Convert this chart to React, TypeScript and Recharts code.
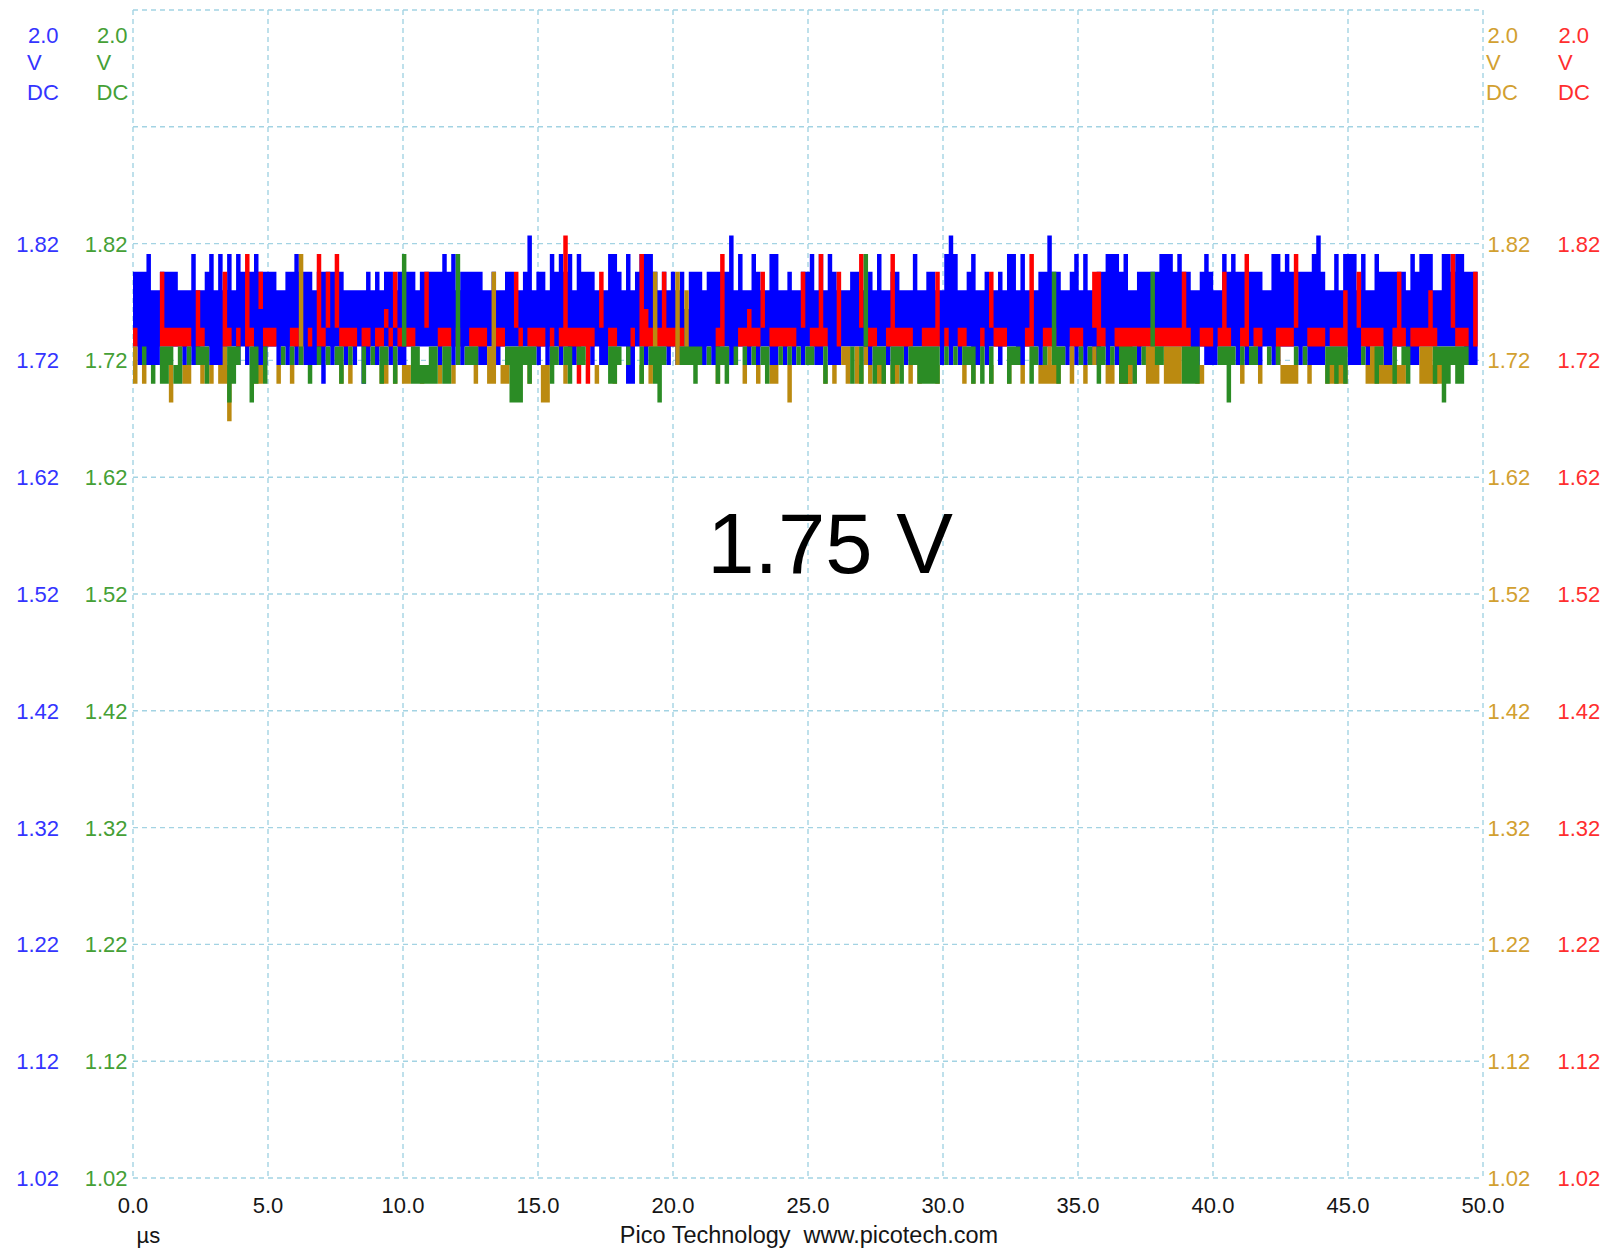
import React from 'react';
import { ComposedChart, Area, XAxis, YAxis, CartesianGrid } from 'recharts';

const SAMPLE_US = 0.166; // width of one display bin in µs
const LEVELS = [1.668, 1.684, 1.7, 1.716, 1.732, 1.748, 1.764, 1.78, 1.796, 1.811, 1.827];

const blueHi = [
  8,8,8,9,7,7,8,8,8,8,7,7,7,9,7,7,8,9,7,9,7,9,7,9,8,
  8,8,9,8,8,8,8,7,7,8,8,9,8,8,8,7,8,8,8,8,8,8,7,7,7,
  7,7,8,7,8,7,8,8,7,8,8,8,8,7,8,8,8,8,8,9,8,9,7,8,8,
  8,8,8,7,7,8,7,7,8,8,7,7,8,10,7,8,8,7,9,8,9,8,9,7,9,
  8,8,8,7,7,7,9,9,8,7,9,7,8,9,9,9,8,7,8,7,8,7,8,6,8,
  8,8,7,8,8,8,8,8,10,7,9,7,7,9,8,7,7,9,9,7,7,8,7,7,8,
  8,9,7,9,7,9,8,7,7,7,8,8,7,7,8,7,9,7,7,8,8,7,7,7,9,
  7,7,8,8,7,7,9,10,9,7,7,8,9,7,7,8,7,7,8,7,9,9,7,9,7,
  7,7,8,8,10,8,8,7,7,8,9,7,9,7,7,8,8,9,9,9,8,9,7,7,8,
  8,8,8,8,9,9,9,8,9,8,8,7,7,8,9,8,7,7,9,8,9,8,8,8,8,
  8,8,7,7,9,9,8,9,8,8,8,8,8,9,10,8,7,7,9,7,9,9,9,7,9,
  7,7,9,8,8,8,8,8,8,7,9,8,9,9,9,7,7,9,9,8,9,9,8,8,8,
];
const blueLo = [
  4,3,3,3,3,3,4,4,4,4,4,3,4,3,3,4,4,3,3,3,3,4,4,3,4,
  3,4,3,3,3,4,4,3,4,3,4,3,4,3,3,3,3,2,4,3,4,4,3,4,3,
  4,2,3,4,3,4,4,3,4,3,3,4,4,4,4,4,4,4,3,4,4,3,4,3,4,
  4,4,3,3,4,4,3,4,4,4,4,4,4,4,4,3,4,3,4,4,3,4,3,3,4,
  4,4,3,4,3,3,4,4,4,4,2,2,4,4,3,4,4,4,4,3,4,3,4,3,3,
  3,3,3,4,3,3,4,4,3,3,4,4,3,4,3,4,4,3,3,4,3,4,3,4,3,
  4,4,3,3,4,3,3,3,4,4,4,4,4,3,3,4,4,4,3,4,4,4,3,4,4,
  4,4,4,4,4,3,4,3,4,3,4,4,3,3,4,3,4,4,3,4,4,4,3,3,4,
  4,4,3,4,4,4,4,4,3,4,3,4,3,4,3,3,4,3,4,3,4,4,4,4,3,
  4,4,4,4,4,4,4,4,4,4,4,3,3,4,3,3,3,4,4,4,4,3,4,3,4,
  4,3,4,4,3,4,4,4,4,4,3,4,3,3,3,3,4,4,4,4,4,3,3,3,4,
  3,4,4,4,3,3,4,4,4,3,3,3,4,4,4,4,4,4,4,4,4,4,3,3,3,
];
const redHi = [
  5,5,5,5,5,5,8,5,5,5,5,5,5,5,7,5,5,5,5,5,8,5,5,5,5,
  9,5,5,8,5,5,5,5,5,5,5,5,5,5,5,5,9,5,8,5,9,5,5,5,5,
  5,5,5,5,5,5,6,5,8,5,5,5,5,5,5,8,5,5,5,5,5,5,5,5,5,
  5,5,5,5,5,5,5,5,5,5,8,5,5,5,5,5,5,5,5,5,5,10,5,5,5,
  5,5,5,5,8,5,5,5,5,5,5,5,5,9,6,5,5,5,8,5,5,5,5,5,5,
  5,5,5,5,5,5,9,5,5,5,5,5,6,5,5,8,5,5,5,5,5,5,5,5,8,
  5,5,5,9,5,5,5,8,5,5,5,5,9,5,5,5,5,5,5,9,5,5,5,5,5,
  5,5,5,5,8,5,5,5,5,5,5,5,5,5,5,5,8,5,5,5,5,5,5,5,5,
  9,5,5,5,5,5,5,5,5,5,5,5,5,5,8,8,5,5,5,5,5,5,5,5,5,
  5,5,5,5,5,5,5,5,5,8,5,5,5,5,5,5,5,5,8,5,5,5,5,9,5,
  5,5,5,5,5,5,5,5,5,9,5,5,5,5,5,5,5,5,5,5,7,5,5,8,5,
  5,5,5,5,5,5,5,8,5,5,5,5,5,5,7,5,5,5,5,9,5,5,5,5,8,
];
const redLo = [
  4,5,5,5,5,5,4,4,4,4,4,4,4,5,4,4,5,5,5,5,4,4,5,4,5,
  4,4,5,6,4,4,4,5,5,5,4,4,5,5,4,5,4,4,5,5,5,4,4,4,4,
  5,4,4,5,4,4,5,4,5,4,4,4,4,5,5,5,5,5,4,4,4,5,4,5,5,
  4,4,4,4,5,5,4,4,5,5,5,4,5,4,4,4,4,5,4,5,4,4,4,4,2,
  4,2,4,5,5,5,4,4,5,5,5,4,5,4,4,4,4,4,4,4,4,4,4,5,5,
  5,5,5,5,5,4,4,5,5,5,4,4,4,4,4,5,5,4,4,4,4,4,4,5,5,
  5,4,4,4,4,5,5,4,5,5,5,5,5,5,4,4,5,5,4,4,4,4,4,4,5,
  5,4,4,4,4,5,4,5,5,4,4,5,5,5,4,5,5,4,4,4,5,5,5,5,4,
  4,5,5,4,4,4,5,5,5,4,4,4,5,5,5,4,4,5,5,4,2,2,2,4,4,
  4,4,4,4,4,4,4,4,4,4,4,5,5,4,4,4,5,4,4,4,5,5,4,4,5,
  4,4,5,5,5,3,4,4,4,5,5,5,4,4,4,4,5,4,4,4,4,5,5,5,4,
  4,4,4,4,5,5,4,4,4,5,4,4,4,4,4,4,5,5,5,5,4,4,4,5,4,
];
const greenHi = [
  4,4,4,4,3,4,4,4,4,3,4,4,4,4,4,4,4,4,4,4,4,4,4,4,4,
  4,4,4,4,4,4,4,4,4,4,4,4,4,4,3,4,4,4,4,4,4,4,4,4,4,
  4,4,4,4,4,4,4,4,4,4,9,4,4,4,3,3,4,4,4,4,4,4,9,4,4,
  4,4,4,4,4,4,4,4,4,4,4,4,4,4,4,4,4,4,4,4,4,4,4,4,4,
  4,4,4,4,4,4,4,4,4,4,4,4,4,4,4,4,4,4,4,4,4,4,4,4,4,
  4,4,4,4,4,4,4,4,4,4,4,4,4,4,4,4,4,4,4,4,4,4,4,4,4,
  4,4,4,4,4,4,4,4,4,4,4,4,4,9,4,4,4,4,4,4,4,4,4,4,4,
  4,4,4,4,4,4,4,4,4,4,4,4,4,4,4,4,4,4,4,4,4,4,4,4,4,
  4,4,4,4,4,8,4,4,4,4,4,4,4,4,4,4,4,4,4,4,4,4,4,4,4,
  4,4,8,4,4,4,4,4,4,4,4,4,4,4,4,4,4,4,4,4,4,4,4,4,4,
  4,4,4,4,4,4,4,4,4,4,4,4,4,4,4,4,4,4,4,4,4,4,4,4,4,
  4,4,4,4,4,4,4,4,4,4,4,4,4,4,4,4,4,4,4,4,4,4,4,4,4,
];
const greenLo = [
  4,4,3,4,2,4,2,2,3,2,2,4,3,4,3,3,2,4,4,4,4,1,2,3,4,
  4,1,2,4,2,4,4,4,3,4,3,4,3,4,2,4,3,4,3,4,3,2,4,3,4,
  4,2,4,3,4,2,3,4,2,4,4,4,2,2,2,2,2,2,4,2,2,4,3,4,3,
  3,3,4,4,4,4,4,4,3,1,1,1,3,2,3,4,4,4,2,3,4,3,2,4,3,
  3,4,4,4,4,4,2,2,3,4,3,4,4,2,4,3,2,1,3,4,4,4,3,3,3,
  2,3,4,3,4,2,3,2,4,3,4,3,4,3,4,3,2,4,4,3,4,3,4,3,4,
  3,3,4,4,2,4,4,4,4,4,2,4,2,4,4,2,3,2,4,2,3,2,4,3,3,
  2,2,2,2,2,4,3,4,3,4,3,3,2,4,2,4,2,4,4,4,2,3,3,4,4,
  2,3,4,3,4,3,2,3,4,4,4,3,4,3,4,2,3,4,3,4,2,2,3,2,4,
  3,4,4,3,3,4,4,4,4,2,2,2,2,4,4,4,4,3,3,1,3,4,3,4,3,
  3,4,4,3,4,3,4,4,4,3,4,3,4,4,4,4,2,3,2,3,2,4,4,4,3,
  4,4,2,3,4,4,2,4,3,2,4,4,4,4,4,2,3,1,2,3,2,2,3,4,4,
];
const goldHi = [
  4,3,3,3,3,3,3,3,3,3,3,3,3,3,3,3,3,3,3,3,4,3,3,3,3,
  3,3,3,3,3,3,3,3,3,3,3,3,9,3,3,3,3,3,3,3,3,3,3,3,3,
  3,3,3,3,3,3,3,3,3,3,3,3,3,3,3,3,3,3,3,3,3,3,3,3,3,
  3,4,3,3,4,8,3,3,3,3,3,3,3,3,3,3,3,3,3,3,3,3,3,3,3,
  3,3,3,3,3,3,3,3,3,3,3,3,3,3,3,3,8,3,3,3,3,8,3,7,3,
  3,3,3,3,3,3,3,3,3,3,3,3,3,3,3,3,3,3,3,3,3,3,3,3,3,
  3,3,3,3,3,3,3,3,4,4,3,4,3,4,3,3,3,3,3,3,3,3,3,3,3,
  3,3,3,3,3,3,3,3,3,3,3,3,3,3,3,3,3,3,3,3,3,3,3,3,3,
  3,3,3,3,4,3,3,3,3,4,3,3,3,3,4,3,3,3,3,3,3,3,3,3,3,
  3,4,4,4,3,4,4,4,4,3,3,3,3,3,3,3,3,3,3,3,3,3,3,3,3,
  3,3,3,3,3,3,3,3,3,3,3,3,3,3,3,3,3,3,3,3,3,3,3,3,3,
  3,4,4,4,3,3,3,3,3,3,3,3,4,4,4,3,3,3,3,3,3,3,3,3,3,
];
const goldLo = [
  2,3,2,3,3,3,3,3,1,3,3,2,2,3,3,2,3,2,3,2,2,0,3,3,3,
  3,3,2,2,3,3,3,2,3,3,2,3,3,3,3,3,3,3,3,3,3,2,3,2,3,
  3,3,3,3,3,2,2,3,2,3,2,2,3,3,2,3,3,3,2,3,3,2,3,3,3,
  3,2,3,3,2,2,3,2,2,3,3,3,3,2,3,3,1,1,3,3,3,2,3,3,3,
  3,3,3,2,3,3,3,2,3,3,3,3,3,2,3,2,3,3,3,3,3,3,3,3,3,
  3,3,3,3,3,2,3,3,3,3,3,2,3,3,2,3,3,2,2,3,3,1,3,3,3,
  3,3,3,3,2,3,2,3,3,2,3,2,2,3,2,3,2,2,3,2,2,3,3,2,3,
  2,3,3,3,2,3,3,3,3,3,2,3,2,3,3,3,2,3,3,3,2,3,3,2,3,
  3,3,2,2,2,2,2,3,3,2,3,3,2,3,3,3,3,2,2,3,3,2,2,3,3,
  3,2,2,2,3,2,2,2,2,3,3,3,2,2,3,3,3,3,3,3,3,3,2,3,3,
  3,2,3,3,3,3,2,2,2,2,3,3,2,3,3,3,2,2,2,2,2,3,3,3,3,
  2,2,2,2,2,2,2,2,2,3,3,3,2,2,2,2,2,2,3,3,3,3,3,3,3,
];

const timeTicks = [0, 5, 10, 15, 20, 25, 30, 35, 40, 45, 50];
const voltTicks = [1.02, 1.12, 1.22, 1.32, 1.42, 1.52, 1.62, 1.72, 1.82, 1.92, 2.02];
const TOP_VALUE = 2.02;
const UNLABELLED_VALUE = 1.92;
const RANGE_LABEL = '2.0';
const UNIT_LINES = ['V', 'DC'];
const READOUT = '1.75 V';
const TIME_UNIT = 'µs';
const FOOTER = 'Pico Technology  www.picotech.com';

// ---- styles ----
const FONT = "'Liberation Sans', Arial, Helvetica, sans-serif";
const C_BLUE = '#0000ff';
const C_RED = '#ff0000';
const C_GREEN = '#2b8c25';
const C_GOLD = '#bb8a10';
const T_BLUE = '#3434ff';
const T_GREEN = '#45a036';
const T_GOLD = '#d2a030';
const T_RED = '#ff2e2e';
const GRID = '#a3d3e3';

const W = 1609;
const H = 1249;

const rows = blueHi.map((_, i) => ({
  t: +(i * SAMPLE_US).toFixed(3),
  blue: [LEVELS[blueLo[i]], LEVELS[blueHi[i]]],
  red: [LEVELS[redLo[i]], LEVELS[redHi[i]]],
  green: [LEVELS[greenLo[i]], LEVELS[greenHi[i]]],
  gold: [LEVELS[goldLo[i]], LEVELS[goldHi[i]]],
}));
rows.push({ ...rows[rows.length - 1], t: +(blueHi.length * SAMPLE_US).toFixed(3) });

function UnitBlock({ xEnd, xStart, y, color }: { xEnd: number; xStart: number; y: number; color: string }) {
  return (
    <g fontFamily={FONT} fontSize={22} fill={color}>
      <text x={xEnd} y={y + 32.5} textAnchor="end">{RANGE_LABEL}</text>
      <text x={xStart} y={y + 59.5}>{UNIT_LINES[0]}</text>
      <text x={xStart} y={y + 89.5}>{UNIT_LINES[1]}</text>
    </g>
  );
}

function LeftTick(props: any) {
  const { y, payload } = props;
  const v: number = payload.value;
  if (v === TOP_VALUE) {
    return (
      <g>
        <UnitBlock xEnd={58.5} xStart={27} y={y} color={T_BLUE} />
        <UnitBlock xEnd={127.5} xStart={96.5} y={y} color={T_GREEN} />
      </g>
    );
  }
  if (v === UNLABELLED_VALUE) return <g />;
  const s = v.toFixed(2);
  return (
    <g fontFamily={FONT} fontSize={22}>
      <text x={59} y={y + 8} textAnchor="end" fill={T_BLUE}>{s}</text>
      <text x={127.5} y={y + 8} textAnchor="end" fill={T_GREEN}>{s}</text>
    </g>
  );
}

function RightTick(props: any) {
  const { y, payload } = props;
  const v: number = payload.value;
  if (v === TOP_VALUE) {
    return (
      <g>
        <UnitBlock xEnd={1518} xStart={1486} y={y} color={T_GOLD} />
        <UnitBlock xEnd={1589} xStart={1558} y={y} color={T_RED} />
      </g>
    );
  }
  if (v === UNLABELLED_VALUE) return <g />;
  const s = v.toFixed(2);
  return (
    <g fontFamily={FONT} fontSize={22}>
      <text x={1487.5} y={y + 8} fill={T_GOLD}>{s}</text>
      <text x={1557.5} y={y + 8} fill={T_RED}>{s}</text>
    </g>
  );
}

function TimeTick(props: any) {
  const { x, payload } = props;
  return (
    <text x={x} y={1213} textAnchor="middle" fontFamily={FONT} fontSize={22} fill="#151515">
      {Number(payload.value).toFixed(1)}
    </text>
  );
}

export default function App() {
  return (
    <div style={{ position: 'absolute', left: 0, top: 0, width: W, height: H, background: '#fff' }}>
      <ComposedChart width={W} height={H} data={rows} margin={{ top: 10, right: 0, bottom: 0, left: 0 }}>
        <CartesianGrid
          yAxisId="L"
          stroke={GRID}
          strokeWidth={1.4}
          strokeDasharray="5 4"
          horizontalValues={voltTicks}
          verticalValues={timeTicks}
        />
        <XAxis
          dataKey="t"
          type="number"
          domain={[0, 50]}
          ticks={timeTicks}
          interval={0}
          allowDataOverflow
          height={71}
          axisLine={false}
          tickLine={false}
          tick={TimeTick}
        />
        <YAxis
          yAxisId="L"
          orientation="left"
          type="number"
          domain={[1.02, 2.02]}
          ticks={voltTicks}
          interval={0}
          allowDataOverflow
          width={133}
          axisLine={false}
          tickLine={false}
          tick={LeftTick}
        />
        <YAxis
          yAxisId="R"
          orientation="right"
          type="number"
          domain={[1.02, 2.02]}
          ticks={voltTicks}
          interval={0}
          allowDataOverflow
          width={126}
          axisLine={false}
          tickLine={false}
          tick={RightTick}
        />
        <Area yAxisId="L" dataKey="blue" type="stepAfter" stroke="none" fill={C_BLUE} fillOpacity={1} isAnimationActive={false} dot={false} activeDot={false} />
        <Area yAxisId="L" dataKey="red" type="stepAfter" stroke="none" fill={C_RED} fillOpacity={1} isAnimationActive={false} dot={false} activeDot={false} />
        <Area yAxisId="L" dataKey="gold" type="stepAfter" stroke="none" fill={C_GOLD} fillOpacity={1} isAnimationActive={false} dot={false} activeDot={false} />
        <Area yAxisId="L" dataKey="green" type="stepAfter" stroke="none" fill={C_GREEN} fillOpacity={1} isAnimationActive={false} dot={false} activeDot={false} />
      </ComposedChart>
      <svg width={W} height={H} style={{ position: 'absolute', left: 0, top: 0, pointerEvents: 'none' }}>
        <text x={830} y={572.5} textAnchor="middle" fontFamily={FONT} fontSize={85} fill="#000">{READOUT}</text>
        <text x={136.5} y={1243} fontFamily={FONT} fontSize={22} fill="#151515">{TIME_UNIT}</text>
        <text x={809} y={1243} textAnchor="middle" fontFamily={FONT} fontSize={23.5} fill="#151515" xmlSpace="preserve" style={{ whiteSpace: 'pre' }}>{FOOTER}</text>
      </svg>
    </div>
  );
}
